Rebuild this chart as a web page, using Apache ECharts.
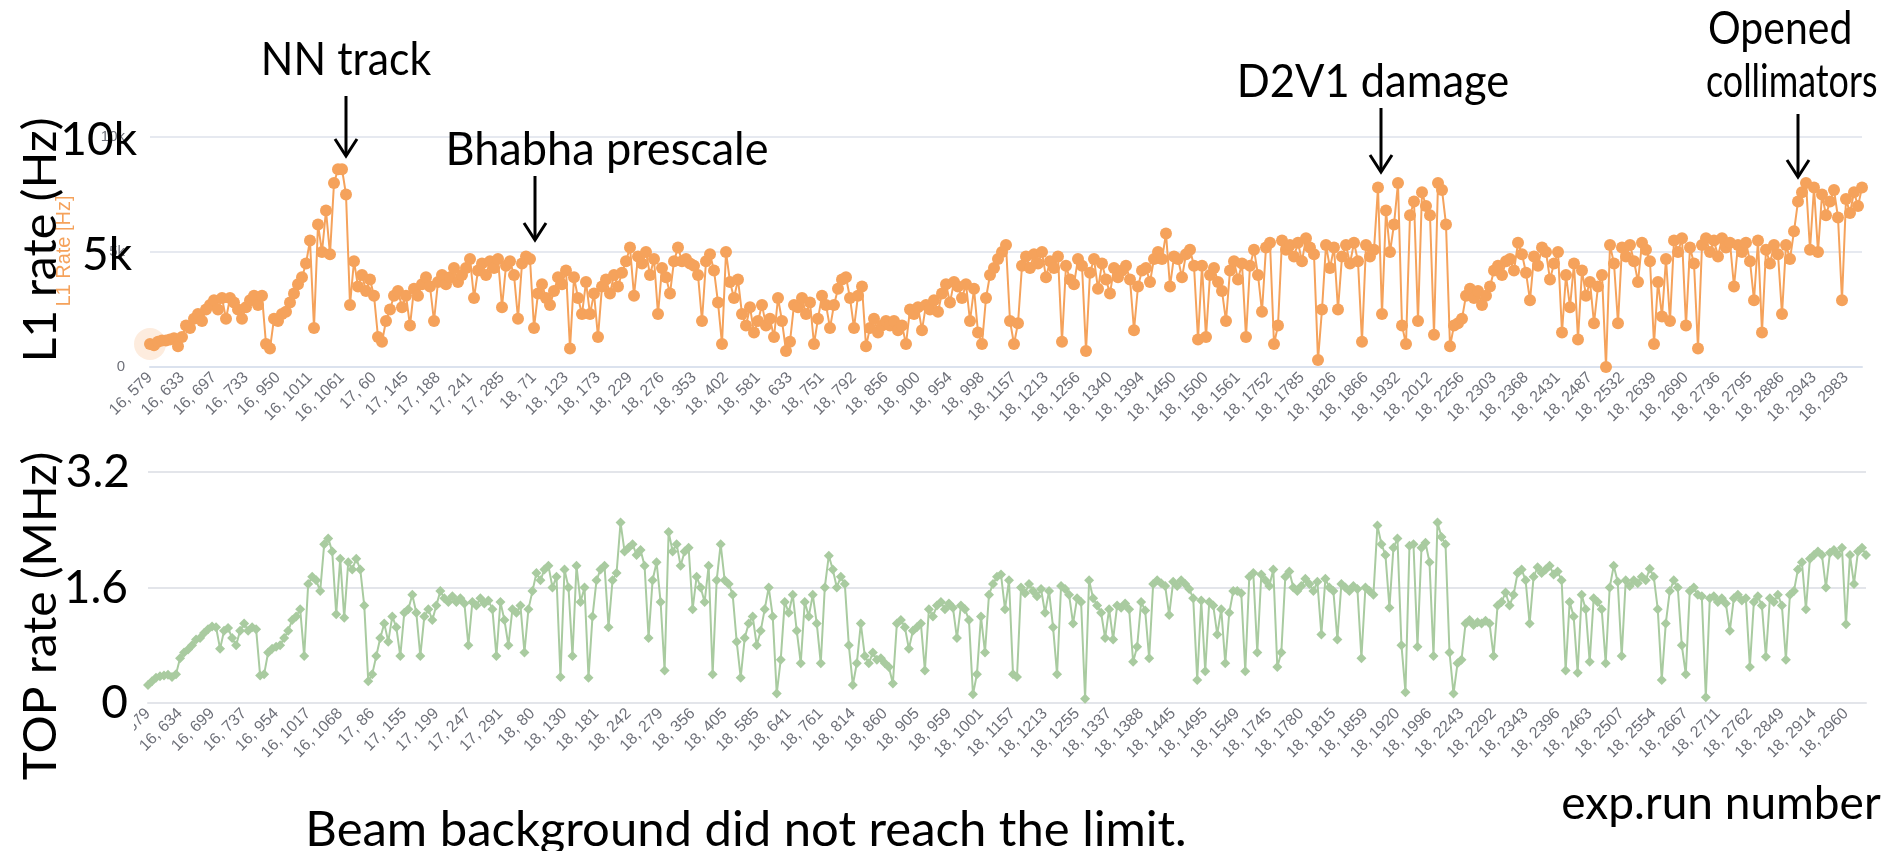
<!DOCTYPE html>
<html>
<head>
<meta charset="utf-8">
<script src="https://cdn.jsdelivr.net/npm/echarts@6/dist/echarts.min.js"></script>
<style>
html,body{margin:0;padding:0;background:#fff;}
#c{width:1886px;height:851px;}
</style>
</head>
<body>
<div id="c"></div>
<script>
// ---- tick labels (every 8th run shown on the axes) ----
const topTicks = ["16, 579","16, 633","16, 697","16, 733","16, 950","16, 1011","16, 1061","17, 60","17, 145","17, 188","17, 241","17, 285","18, 71","18, 123","18, 173","18, 229","18, 276","18, 353","18, 402","18, 581","18, 633","18, 751","18, 792","18, 856","18, 900","18, 954","18, 998","18, 1157","18, 1213","18, 1256","18, 1340","18, 1394","18, 1450","18, 1500","18, 1561","18, 1752","18, 1785","18, 1826","18, 1866","18, 1932","18, 2012","18, 2256","18, 2303","18, 2368","18, 2431","18, 2487","18, 2532","18, 2639","18, 2690","18, 2736","18, 2795","18, 2886","18, 2943","18, 2983"];
const bottomTicks = ["16, 579","16, 634","16, 699","16, 737","16, 954","16, 1017","16, 1068","17, 86","17, 155","17, 199","17, 247","17, 291","18, 80","18, 130","18, 181","18, 242","18, 279","18, 356","18, 405","18, 585","18, 641","18, 761","18, 814","18, 860","18, 905","18, 959","18, 1001","18, 1157","18, 1213","18, 1255","18, 1337","18, 1388","18, 1445","18, 1495","18, 1549","18, 1745","18, 1780","18, 1815","18, 1859","18, 1920","18, 1996","18, 2243","18, 2292","18, 2343","18, 2396","18, 2463","18, 2507","18, 2554","18, 2667","18, 2711","18, 2762","18, 2849","18, 2914","18, 2960"];
const TICK_STEP = 8;

// ---- L1 rate [Hz] per run ----
const l1Rate = [1000,950,1100,1150,1150,1200,1250,900,1300,1800,
1700,2100,2300,2000,2500,2700,2900,2500,3000,2100,
3000,2800,2500,2100,2600,2900,3100,2700,3100,1000,
800,2100,2000,2300,2400,2800,3200,3600,3900,4500,
5500,1700,6200,5000,6800,4900,8000,8600,8600,7500,
2700,4600,3500,4000,3300,3800,3100,1300,1100,2000,
2500,3100,3300,2600,3100,1800,3400,3100,3600,3900,
3500,2000,3700,4000,3600,3900,4300,3700,4000,4300,
4700,3000,4200,4500,4000,4600,4300,4700,2600,4400,
4600,4000,2100,4500,4800,4700,1700,3200,3600,3000,
2700,3300,3900,3600,4200,800,3900,3000,2300,3700,
2300,3200,1300,3500,3800,3200,4000,3500,4100,4600,
5200,3100,4800,4500,5000,4000,4700,2300,4300,3900,
3200,4600,5200,4600,4700,4500,4400,4000,2000,4600,
4900,4200,2800,1000,5000,3700,3000,3800,2300,1800,
2600,1500,2000,2700,1800,2100,1300,3000,2000,700,
1100,2700,2600,3000,2300,2800,1000,2100,3100,2700,
1700,2700,3400,3800,3900,3000,1700,3100,3500,900,
1700,2100,1500,1800,2000,1800,2000,1600,1800,1000,
2500,2300,2600,1600,2700,2500,2900,2400,3200,3600,
2800,3700,3500,3000,3600,2000,3400,1500,1000,3000,
4000,4300,4700,5000,5300,2000,
1000,1900,4400,4800,4300,4900,4500,5000,3900,4600,
4300,4800,1100,4400,3800,3600,4700,4400,700,4100,
4700,3400,4500,3800,3200,4300,3900,4200,4400,3800,
1600,3500,4200,4300,3700,4700,5000,4700,5800,3500,
4800,4700,3900,4900,5100,4400,1200,4400,1300,4000,
4300,3700,3300,2000,4200,4600,3800,4500,1300,4400,
5100,4000,2400,5200,5400,1000,1800,5500,5100,5300,
4800,5400,4600,5600,5200,4900,300,2500,5300,4300,
5200,2500,4800,5300,4500,5400,4600,1100,5300,4800,
5100,7800,2300,6800,5000,6200,8000,1800,1000,6600,
7200,2000,7600,7000,6600,1400,8000,7700,6200,900,
1800,1900,2100,3100,3400,3000,3300,2700,3100,3500,
4200,4400,4000,4600,4700,4200,5400,4900,4100,2900,
4800,4400,5200,5000,3800,4500,5000,1500,4000,2600,
4500,1200,4200,3100,3700,1900,3500,4000,0,5300,
4500,1900,5200,4800,5300,4600,3700,5400,5100,4600,
1000,3700,2200,4700,2000,5500,5000,5600,1800,5200,
4500,800,5300,5600,5000,5500,4800,5600,5200,5400,
3500,5300,5000,5400,4600,2900,5500,1500,5100,4500,
5300,4900,2300,5300,4700,5900,7200,7600,8000,5100,
7800,5000,7500,6600,7200,7700,6500,2900,7300,6700,
7600,7000,7800];

// ---- TOP rate [MHz] per run ----
const topRate = [0.25,0.30,0.35,0.37,0.38,0.39,0.36,0.40,0.62,0.70,
0.74,0.80,0.88,0.90,0.97,1.02,1.06,1.05,0.75,1.00,
1.04,0.90,0.80,1.00,1.10,1.00,1.05,1.02,0.38,0.40,
0.70,0.75,0.78,0.80,0.90,1.00,1.15,1.20,1.30,0.65,
1.65,1.75,1.70,1.55,2.20,2.28,2.10,1.23,2.00,1.18,
1.95,1.85,2.00,1.85,1.35,0.30,0.40,0.65,0.90,1.10,
0.85,1.20,1.05,0.65,1.25,1.30,1.50,1.25,0.65,1.20,
1.30,1.15,1.35,1.55,1.45,1.40,1.48,1.40,1.45,1.38,
0.80,1.40,1.35,1.45,1.38,1.42,1.30,0.65,1.40,1.15,
0.80,1.30,1.25,1.35,0.70,1.30,1.55,1.80,1.70,1.85,
1.90,1.60,1.75,0.36,1.85,1.60,0.65,1.90,1.40,1.60,
0.35,1.20,1.70,1.85,1.90,1.05,1.70,1.80,2.50,2.10,
2.15,2.20,2.05,2.12,1.90,0.90,1.70,1.95,1.40,0.45,
2.37,2.10,2.20,1.90,2.10,2.15,1.30,1.75,1.60,1.40,
1.90,0.40,1.70,2.20,1.70,1.65,1.50,0.85,0.35,0.90,
1.10,1.20,0.80,1.00,1.30,1.60,1.20,0.13,0.60,1.40,
1.25,1.50,1.00,0.55,1.40,1.20,1.50,1.10,0.55,1.60,
2.04,1.85,1.60,1.75,1.65,0.80,0.25,0.55,1.10,0.65,
0.55,0.70,0.60,0.62,0.55,0.50,0.27,1.10,1.15,1.05,
0.75,1.00,1.05,1.10,0.45,1.30,1.20,1.35,1.40,1.30,
1.38,1.32,0.90,1.35,1.30,1.15,0.12,0.40,1.20,0.70,
1.50,1.65,1.75,1.78,1.30,1.70,
0.40,0.36,1.60,1.52,1.65,1.55,1.48,1.58,1.25,1.55,
1.05,0.40,1.62,1.58,1.50,1.10,1.45,1.40,0.06,1.70,
1.45,1.35,1.25,0.90,1.30,0.88,1.35,1.32,1.38,1.30,
0.57,0.78,1.40,1.28,0.62,1.65,1.70,1.66,1.62,1.22,
1.68,1.62,1.70,1.65,1.58,1.45,0.32,1.42,0.44,1.40,
1.35,0.95,1.30,0.55,1.25,1.55,1.55,1.52,0.44,1.75,
1.80,0.70,1.78,1.70,1.62,1.85,0.50,0.70,1.75,1.82,
1.60,1.55,1.62,1.72,1.65,1.55,1.68,0.95,1.72,1.60,
1.55,0.88,1.65,1.60,1.55,1.62,1.58,0.62,1.60,1.55,
1.50,2.46,2.20,2.05,1.32,2.15,2.28,0.80,0.15,2.18,
2.20,0.78,2.15,2.22,1.95,0.65,2.50,2.30,2.20,0.70,
0.13,0.55,0.60,1.10,1.15,1.08,1.12,1.10,1.14,1.10,
0.65,1.35,1.40,1.53,1.35,1.50,1.80,1.85,1.70,1.10,
1.75,1.88,1.80,1.85,1.90,1.78,1.82,1.70,0.45,1.40,
1.20,0.42,1.50,1.30,0.57,1.45,1.40,1.30,0.55,1.60,
1.90,1.68,0.65,1.70,1.62,1.70,1.66,1.75,1.70,1.86,
1.75,1.30,0.32,1.10,1.55,1.70,1.60,0.80,0.40,1.55,
1.60,1.50,1.48,0.08,1.45,1.48,1.40,1.45,1.38,1.00,
1.45,1.50,1.42,1.45,0.50,1.40,1.48,1.35,0.64,1.45,
1.40,1.50,1.35,0.60,1.50,1.55,1.85,1.95,1.30,2.00,
2.05,2.10,2.05,1.60,2.08,2.12,2.05,2.15,1.09,2.05,
1.65,2.10,2.15,2.05];

// ---- build the run categories (labelled run every TICK_STEP points) ----
function buildCats(ticks, n, step) {
  const cats = [];
  for (let i = 0; i < n; i++) {
    const t = Math.floor(i / step), r = i % step;
    const a = ticks[Math.min(t, ticks.length - 1)].split(', ');
    if (r === 0 && t < ticks.length) { cats.push(ticks[t]); continue; }
    const b = ticks[t + 1] ? ticks[t + 1].split(', ') : null;
    let run;
    if (b && b[0] === a[0]) run = Math.round(+a[1] + (+b[1] - +a[1]) * r / step);
    else run = +a[1] + r;
    cats.push(a[0] + ', ' + run);
  }
  return cats;
}
const topCats = buildCats(topTicks, l1Rate.length, TICK_STEP);
const bottomCats = buildCats(bottomTicks, topRate.length, TICK_STEP);

const ORANGE = '#f5a25b';
const GREEN = '#a9cba0';
const BIG = '46px Lato';

function arrow(x, y1, y2) {
  return [
    {type:'line', z:100, shape:{x1:x, y1:y1, x2:x, y2:y2}, style:{stroke:'#000', lineWidth:3}},
    {type:'polyline', z:100, shape:{points:[[x-11, y2-17],[x, y2],[x+11, y2-17]]}, style:{stroke:'#000', lineWidth:3, fill:null}}
  ];
}
function txt(t, x, y, opt, st) {
  return Object.assign({type:'text', z:101, x:x, y:y,
    style:Object.assign({text:t, font:BIG, fill:'#000', align:'center', verticalAlign:'middle'}, st || {})}, opt || {});
}

const chart = echarts.init(document.getElementById('c'), null, {renderer:'canvas'});
const catLabel = {
  interval: function (idx) { return idx % TICK_STEP === 0; },
  rotate: 45, fontSize: 16, color: '#6E7079', margin: 8
};
chart.setOption({
  animation: false,
  grid: [
    {left:150, top:137, width:1712, height:230},
    {left:148, top:472, width:1718, height:231}
  ],
  xAxis: [
    {type:'category', gridIndex:0, data:topCats, boundaryGap:false,
     axisLine:{lineStyle:{color:'#dbe2ee', width:2}}, axisTick:{show:false}, axisLabel:catLabel},
    {type:'category', gridIndex:1, data:bottomCats, boundaryGap:false,
     axisLine:{lineStyle:{color:'#e3e5ea', width:2}}, axisTick:{show:false}, axisLabel:catLabel}
  ],
  yAxis: [
    {type:'value', gridIndex:0, min:0, max:10000, interval:5000,
     axisLabel:{color:'#6E7079', fontSize:15, margin:25,
       formatter: v => v === 0 ? '0' : (v/1000) + 'k'},
     splitLine:{lineStyle:{color:'#e6e9f0', width:2}}},
    {type:'value', gridIndex:1, min:0, max:3.2, interval:1.6,
     axisLabel:{show:false},
     splitLine:{lineStyle:{color:'#e3e5ea', width:2}}}
  ],
  series: [
    {type:'line', xAxisIndex:0, yAxisIndex:0, data:l1Rate, symbol:'circle', symbolSize:12,
     showAllSymbol:true, itemStyle:{color:ORANGE}, lineStyle:{color:ORANGE, width:2}},
    {type:'scatter', xAxisIndex:0, yAxisIndex:0, data:[[0, l1Rate[0]]], symbolSize:32,
     itemStyle:{color:'rgba(245,162,91,0.25)'}, z:1},
    {type:'line', xAxisIndex:1, yAxisIndex:1, data:topRate, symbol:'diamond', symbolSize:10,
     showAllSymbol:true, itemStyle:{color:GREEN}, lineStyle:{color:GREEN, width:2}}
  ],
  graphic: [
    {type:'rect', z:99, shape:{x:64, y:706, width:70, height:80}, style:{fill:'#fff'}},
    {type:'text', z:100, x:64, y:251, rotation:Math.PI/2,
     style:{text:'L1 Rate [Hz]', font:'20px sans-serif', fill:ORANGE, align:'center', verticalAlign:'middle'}},
    txt('NN track', 346, 60, {scaleX:0.93}),
    txt('Bhabha prescale', 607, 150, {scaleX:0.98}),
    txt('D2V1 damage', 1373, 82, {scaleX:0.945}),
    txt('Opened', 1708, 29, {scaleX:0.89}, {align:'left'}),
    txt('collimators', 1706, 82, {scaleX:0.78}, {align:'left'}),
    txt('exp.run number', 1721, 804),
    txt('Beam background did not reach the limit.', 746, 830, {}, {font:'49px Lato'}),
    txt('10k', 137, 140, {}, {align:'right'}),
    txt('5k', 132, 255, {}, {align:'right'}),
    txt('3.2', 130, 472, {}, {align:'right'}),
    txt('1.6', 128, 588, {}, {align:'right'}),
    txt('0', 128, 703, {}, {align:'right'}),
    txt('L1 rate (Hz)', 41, 240, {rotation:Math.PI/2, scaleX:1.05}),
    txt('TOP rate (MHz)', 41, 616, {rotation:Math.PI/2, scaleX:1.04})
  ].concat(arrow(346, 96, 156), arrow(535, 176, 240), arrow(1381, 108, 172), arrow(1798, 114, 177))
});
</script>
</body>
</html>
